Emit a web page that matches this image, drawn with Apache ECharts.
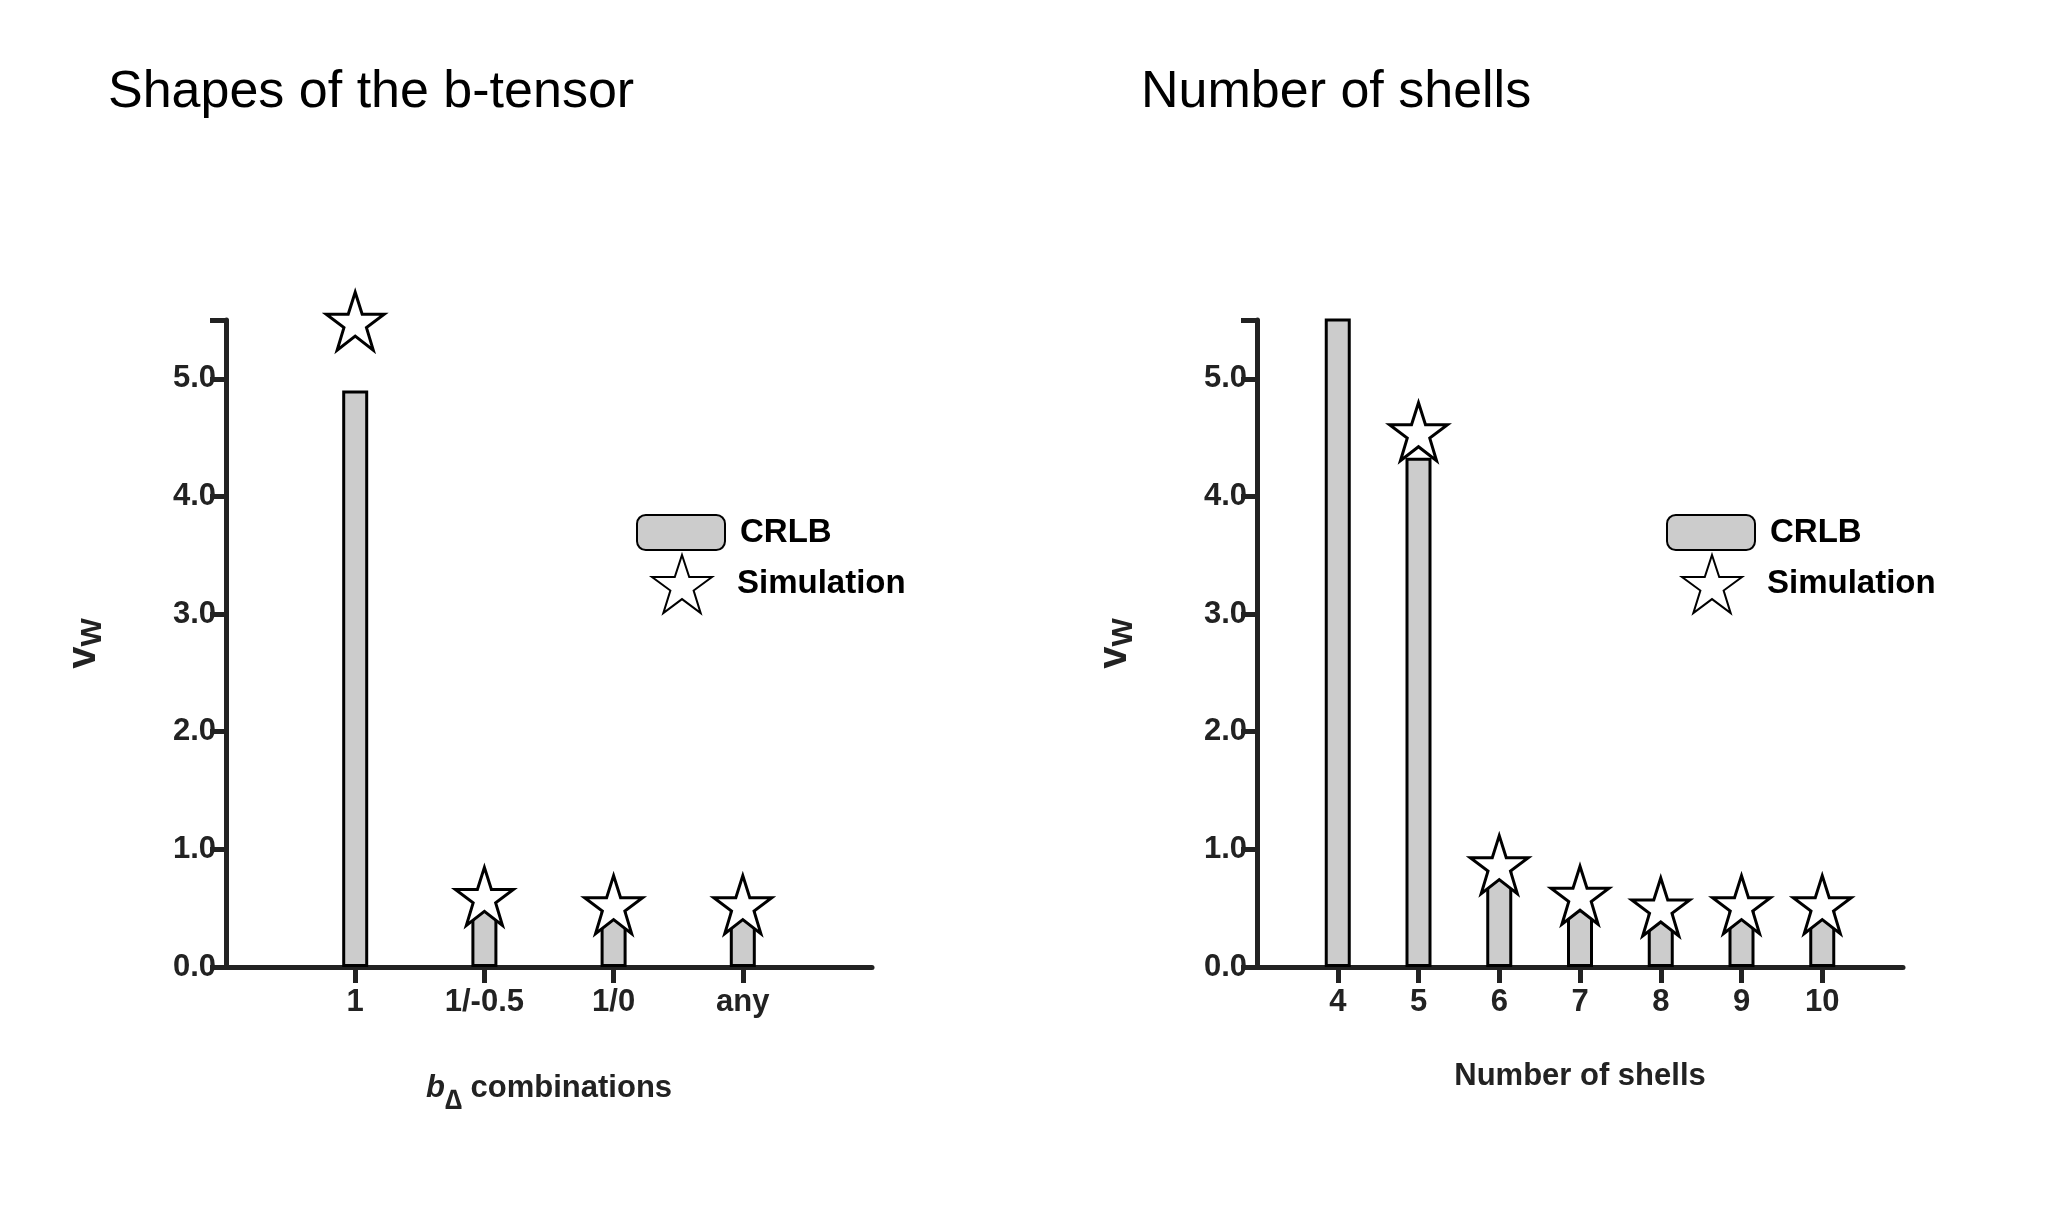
<!DOCTYPE html>
<html>
<head>
<meta charset="utf-8">
<script src="https://cdn.jsdelivr.net/npm/echarts@6/dist/echarts.min.js"></script>
<style>body{margin:0;background:#fff}</style>
</head>
<body>
<div id="main" style="width:2052px;height:1218px"></div>
<script>
// left panel: shapes of the b-tensor
const shapeCats = ['', '1', '1/-0.5', '1/0', 'any', ''];
const shapeCrlb = [null, 4.90, 0.52, 0.47, 0.48, null];
const shapeSim = [null, 5.49, 0.60, 0.53, 0.53, null];
// right panel: number of shells
const shellCats = ['', '4', '5', '6', '7', '8', '9', '10', ''];
const shellCrlb = [null, 8.0, 4.33, 0.88, 0.49, 0.45, 0.48, 0.48, null];
const shellSim = [null, null, 4.55, 0.87, 0.61, 0.51, 0.53, 0.53, null];
const yTicks = [0, 1, 2, 3, 4, 5];

const STAR = 'path://M50,2 L61.8,38 L99,38 L69,60 L80.5,97 L50,74 L19.5,97 L31,60 L1,38 L38.2,38 Z';
const FONT = 'Liberation Sans';
const ink = '#222';

let chart = echarts.init(document.getElementById('main'));

function xAxisFor(gi, cats, name) {
  const isEnd = (i) => i === 0 || i === cats.length - 1;
  return {
    gridIndex: gi, type: 'category', data: cats, boundaryGap: false,
    axisLine: { lineStyle: { color: ink, width: 5 } },
    axisTick: { length: 16, lineStyle: { color: ink, width: 5 }, interval: (i) => !isEnd(i) },
    axisLabel: { interval: (i) => !isEnd(i), color: ink, fontFamily: FONT, fontWeight: 'bold', fontSize: 31, margin: 20 },
    name: name, nameLocation: 'middle', nameGap: 94,
    nameTextStyle: {
      color: ink, fontFamily: FONT, fontWeight: 'bold', fontSize: 31,
      rich: {
        it: { fontStyle: 'italic', fontWeight: 'bold', fontSize: 31, fontFamily: FONT, color: ink },
        sub: { fontSize: 28, fontFamily: FONT, color: ink, padding: [26, 0, 0, 0] },
        n: { fontWeight: 'bold', fontSize: 31, fontFamily: FONT, color: ink }
      }
    }
  };
}

function yAxisFor(gi) {
  return {
    gridIndex: gi, type: 'value', min: 0, max: 5.5, interval: 1,
    axisLine: { show: true, lineStyle: { color: ink, width: 5 } },
    axisTick: { show: true, length: 16, lineStyle: { color: ink, width: 5 } },
    splitLine: { show: false },
    axisLabel: {
      color: ink, fontFamily: FONT, fontWeight: 'bold', fontSize: 31, margin: 10,
      formatter: (v) => yTicks.indexOf(v) >= 0 ? v.toFixed(1) : ''
    },
    name: '{v|v}{w|W}', nameLocation: 'middle', nameGap: 118,
    nameTextStyle: {
      rich: {
        v: { fontFamily: FONT, fontWeight: 'bold', fontSize: 40, color: ink },
        w: { fontFamily: FONT, fontWeight: 'bold', fontSize: 30, color: ink, padding: [18, 0, 0, 0] }
      }
    }
  };
}

function legendsFor(left) {
  return [
    { data: ['CRLB'], left: left, top: 509, itemWidth: 88, itemHeight: 35, itemGap: 0,
      textStyle: { fontFamily: FONT, fontWeight: 'bold', fontSize: 33, color: '#000', padding: [0, 0, 0, 10] } },
    { data: [{ name: 'Simulation', icon: STAR }], left: left + 15, top: 549, itemWidth: 60, itemHeight: 60,
      textStyle: { fontFamily: FONT, fontWeight: 'bold', fontSize: 33, color: '#000', padding: [0, 0, 0, 20] } }
  ];
}

function barSeries(gi, data) {
  return {
    name: 'CRLB', type: 'bar', xAxisIndex: gi, yAxisIndex: gi, data: data, barWidth: 26,
    itemStyle: { color: '#cccccc', borderColor: '#000', borderWidth: 3 }
  };
}
function starSeries(gi, data) {
  return {
    name: 'Simulation', type: 'scatter', xAxisIndex: gi, yAxisIndex: gi, data: data,
    symbol: STAR, symbolSize: 58, z: 5,
    itemStyle: { color: '#fff', borderColor: '#000', borderWidth: 3, opacity: 1 }
  };
}

const legL = legendsFor(631), legR = legendsFor(1661);

chart.setOption({
  animation: false,
  title: [
    { text: 'Shapes of the b-tensor', left: 103, top: 62, textStyle: { fontFamily: FONT, fontWeight: 'normal', fontSize: 52, color: '#000' } },
    { text: 'Number of shells', left: 1136, top: 62, textStyle: { fontFamily: FONT, fontWeight: 'normal', fontSize: 52, color: '#000' } }
  ],
  legend: legL.concat(legR),
  grid: [
    { left: 226, top: 320, width: 646, height: 647 },
    { left: 1257, top: 320, width: 646, height: 647 }
  ],
  xAxis: [
    xAxisFor(0, shapeCats, '{it|b}{sub|\u2206} {n|combinations}'),
    xAxisFor(1, shellCats, 'Number of shells')
  ],
  yAxis: [yAxisFor(0), yAxisFor(1)],
  series: [
    barSeries(0, shapeCrlb), starSeries(0, shapeSim),
    barSeries(1, shellCrlb), starSeries(1, shellSim)
  ]
});
</script>
</body>
</html>
